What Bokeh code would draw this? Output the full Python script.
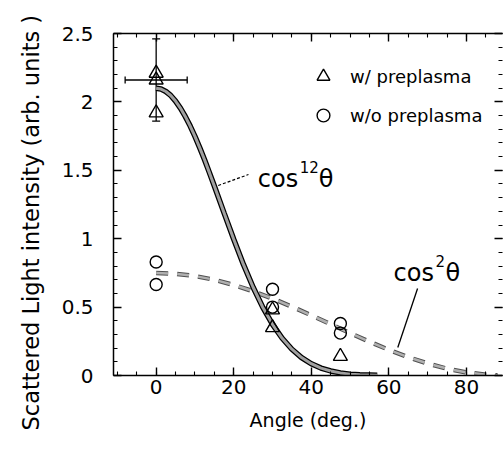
from bokeh.plotting import figure
from bokeh.models import (Range1d, LinearAxis, SingleIntervalTicker, NumeralTickFormatter,
                          CustomJSTickFormatter, Whisker, ColumnDataSource, Label, Legend,
                          LegendItem, TeeHead, Arrow, Title)
from bokeh.embed import file_html
from bokeh.resources import INLINE

# ---- data ----
with_pre_x = [0, 0, 0, 30, 30, 47.5]
with_pre_y = [2.21, 2.16, 1.92, 0.48, 0.35, 0.14]

without_pre_x = [0, 0, 30, 30, 47.5, 47.5]
without_pre_y = [0.83, 0.665, 0.63, 0.50, 0.38, 0.31]

err_x = [0]
err_y = [2.16]
err_dx = [8.0]
err_dy = [0.30]

cos12_x = [0, 1.25, 2.5, 3.75, 5, 6.25, 7.5, 8.75, 10, 11.25, 12.5, 13.75, 15, 17.5, 20,
           22.5, 25, 27.5, 30, 32.5, 35, 37.5, 40, 42.5, 45, 47.5, 50, 52.5, 55, 57]
cos12_y = [2.10, 2.094, 2.076, 2.047, 2.006, 1.955, 1.894, 1.825, 1.748, 1.664, 1.575,
           1.481, 1.385, 1.189, 0.996, 0.812, 0.645, 0.498, 0.374, 0.272, 0.192, 0.131,
           0.086, 0.054, 0.033, 0.019, 0.010, 0.005, 0.003, 0.001]

cos2_x = [0, 5, 10, 15, 20, 25, 30, 35, 40, 45, 50, 55, 60, 65, 70, 75, 80, 85, 88]
cos2_y = [0.75, 0.744, 0.727, 0.700, 0.662, 0.616, 0.5625, 0.503, 0.440, 0.375, 0.310,
          0.247, 0.1875, 0.134, 0.088, 0.050, 0.023, 0.006, 0.001]

FONT = "DejaVu Sans"

p = figure(width=504, height=464, x_range=Range1d(-11, 89.3), y_range=Range1d(0, 2.5),
           output_backend="svg", toolbar_location=None,
           min_border_left=113, min_border_right=2, min_border_top=33, min_border_bottom=89)
p.xgrid.visible = False
p.ygrid.visible = False
p.outline_line_color = None
p.background_fill_color = "white"


def style(ax):
    ax.axis_line_width = 1.5
    ax.axis_line_color = "black"
    ax.major_tick_in = 8
    ax.major_tick_out = 0
    ax.minor_tick_in = 4
    ax.minor_tick_out = 0
    ax.major_tick_line_width = 1.4
    ax.minor_tick_line_width = 1.1
    ax.major_tick_line_color = "black"
    ax.minor_tick_line_color = "black"
    ax.major_label_text_font = FONT
    ax.major_label_text_font_size = "20px"
    ax.major_label_text_color = "black"
    ax.axis_label_text_font = FONT
    ax.axis_label_text_font_style = "normal"
    ax.axis_label_text_color = "black"


xa = p.xaxis[0]
xa.ticker = SingleIntervalTicker(interval=20, num_minor_ticks=4)
style(xa)
xa.major_label_standoff = 4
xa.axis_label = "Angle (deg.)"
xa.axis_label_text_font_size = "19px"
xa.axis_label_standoff = 12

ya = p.yaxis[0]
ya.ticker = SingleIntervalTicker(interval=0.5, num_minor_ticks=5)
style(ya)
ya.formatter = NumeralTickFormatter(format="0.[0]")
ya.major_label_standoff = 20

blank = CustomJSTickFormatter(code="return ''")
top = LinearAxis(ticker=SingleIntervalTicker(interval=20, num_minor_ticks=4), formatter=blank)
style(top)
top.major_label_standoff = 0
p.add_layout(top, "above")

right = LinearAxis(ticker=SingleIntervalTicker(interval=0.5, num_minor_ticks=5), formatter=blank)
style(right)
right.axis_line_color = None
right.major_label_standoff = 0
p.add_layout(right, "right")

# y-axis title as a left-side title, shifted along the axis like the reference
p.add_layout(Title(text="Scattered Light intensity (arb. units )", align="left",
                   vertical_align="bottom", offset=-55, standoff=30, text_font=FONT,
                   text_font_size="22.5px", text_font_style="normal", text_color="black"),
             "left")

# ---- curves ----
p.line(cos2_x, cos2_y, line_color="#505050", line_width=4.5, line_dash="12 9")
p.line(cos2_x, cos2_y, line_color="#b0b0b0", line_width=2.5, line_dash="12 9")
p.line(cos12_x, cos12_y, line_color="black", line_width=5.5)
p.line(cos12_x, cos12_y, line_color="#a0a0a0", line_width=3)

# ---- error bars ----
esrc = ColumnDataSource(dict(
    x=err_x, y=err_y,
    ylo=[a - b for a, b in zip(err_y, err_dy)], yhi=[a + b for a, b in zip(err_y, err_dy)],
    xlo=[a - b for a, b in zip(err_x, err_dx)], xhi=[a + b for a, b in zip(err_x, err_dx)]))
p.add_layout(Whisker(source=esrc, base="x", lower="ylo", upper="yhi", dimension="height",
                     line_width=1.3, line_color="black",
                     upper_head=TeeHead(size=8, line_width=1.3),
                     lower_head=TeeHead(size=8, line_width=1.3)))
p.add_layout(Whisker(source=esrc, base="y", lower="xlo", upper="xhi", dimension="width",
                     line_width=1.3, line_color="black",
                     upper_head=TeeHead(size=7, line_width=1.3),
                     lower_head=TeeHead(size=7, line_width=1.3)))

# ---- points ----
r_tri = p.scatter(with_pre_x, with_pre_y, marker="triangle", size=14, fill_color=None,
                  line_color="black", line_width=1.4)
r_circ = p.scatter(without_pre_x, without_pre_y, marker="circle", size=12, fill_color=None,
                   line_color="black", line_width=1.4)


# ---- annotations ----
def formula(x, y, sup, sup_dx, theta_dx):
    common = dict(x=x, y=y, text_font=FONT, text_baseline="alphabetic", text_color="black")
    p.add_layout(Label(text="cos", text_font_size="24px", **common))
    p.add_layout(Label(text=sup, text_font_size="15px", x_offset=sup_dx, y_offset=12, **common))
    p.add_layout(Label(text="θ", text_font_size="24px", x_offset=theta_dx, **common))


formula(26.2, 1.44, "12", 42, 61)
formula(61.2, 0.746, "2", 42, 52)

p.add_layout(Arrow(end=None, x_start=16.0, y_start=1.389, x_end=23.8, y_end=1.469,
                   line_dash="3 2", line_width=1.2, line_color="black"))
p.add_layout(Arrow(end=None, x_start=67.4, y_start=0.636, x_end=62.3, y_end=0.205,
                   line_width=1.3, line_color="black"))

legend = Legend(items=[LegendItem(label="w/ preplasma", renderers=[r_tri]),
                       LegendItem(label="w/o preplasma", renderers=[r_circ])],
                location=(194, 244), glyph_width=32, glyph_height=32, label_standoff=11,
                spacing=7, padding=0, margin=0, border_line_color=None,
                background_fill_alpha=0, label_text_font=FONT, label_text_font_size="18px",
                label_text_color="black")
p.add_layout(legend)

open("out.html", "w").write(file_html(p, INLINE))
